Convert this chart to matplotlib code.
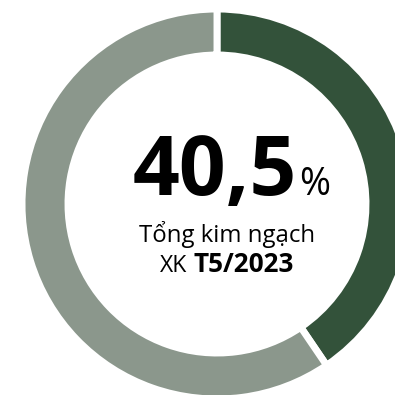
import matplotlib
matplotlib.use("Agg")
import matplotlib.pyplot as plt

labels = ["T5/2023", "Còn lại"]
values = [40.5, 59.5]
colors = ["#33523a", "#8b978c"]
big_value = "40,5"
line1 = "Tổng kim ngạch"
line2a = "XK"
line2b = "T5/2023"

W = H = 395
fig = plt.figure(figsize=(W / 100, H / 100), dpi=100)
ax = fig.add_axes([0, 0, 1, 1])
ax.pie(values, colors=colors, startangle=90, counterclock=False,
       radius=195, center=(217, H - 204),
       wedgeprops=dict(width=46, edgecolor="white", linewidth=5))
ax.set_xlim(0, W)
ax.set_ylim(0, H)
ax.set_aspect("equal")
ax.axis("off")

fam = ["Open Sans", "DejaVu Sans"]
ax.text(297, H - 195, big_value, ha="right", va="baseline", fontsize=59,
        fontweight="bold", family=fam, color="black")
ax.text(299, H - 195, "%", ha="left", va="baseline", fontsize=27,
        family=fam, color="black")
ax.text(227, H - 242, line1, ha="center", va="baseline", fontsize=17.3,
        family=fam, color="black")
ax.text(187, H - 272, line2a, ha="right", va="baseline", fontsize=16.5,
        family=fam, color="black")
ax.text(193, H - 272, line2b, ha="left", va="baseline", fontsize=18.8,
        fontweight="bold", family=fam, color="black")

fig.savefig("out.png", dpi=100)
